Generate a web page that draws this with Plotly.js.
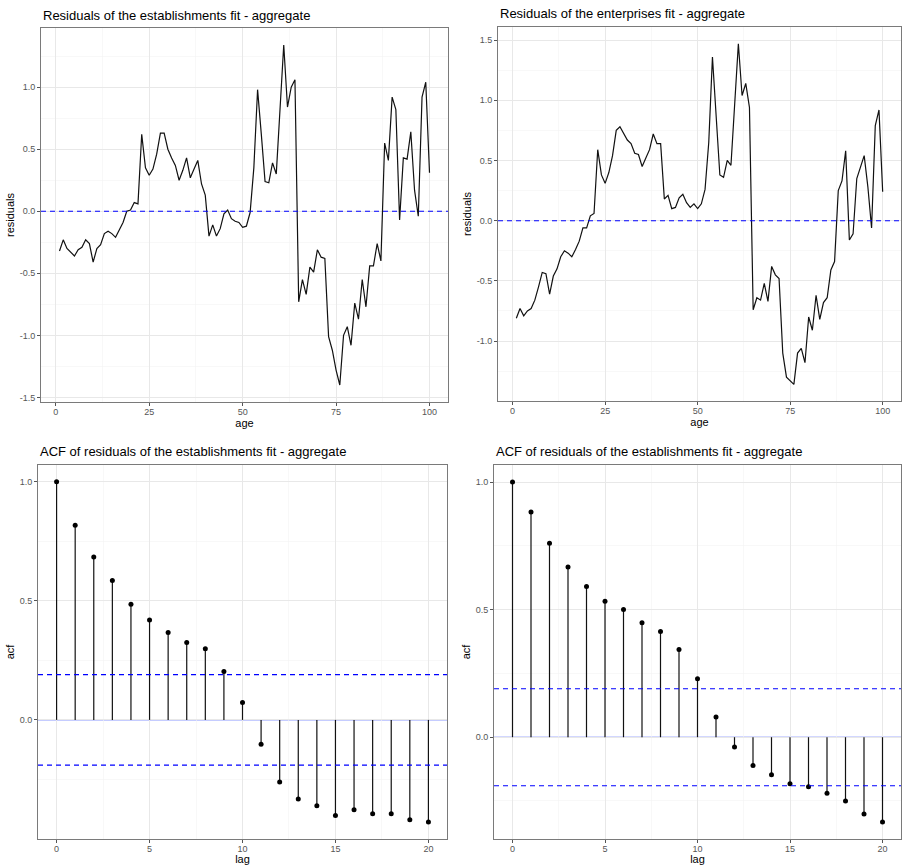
<!DOCTYPE html>
<html>
<head>
<meta charset="utf-8">
<script src="https://cdn.plot.ly/plotly-3.0.1.min.js"></script>
<style>
html,body{margin:0;padding:0;background:#fff;}
#chart{width:902px;height:865px;}
</style>
</head>
<body>
<div id="chart"></div>
<script>
// ---------- data ----------
const age = [1,2,3,4,5,6,7,8,9,10,11,12,13,14,15,16,17,18,19,20,
  21,22,23,24,25,26,27,28,29,30,31,32,33,34,35,36,37,38,39,40,
  41,42,43,44,45,46,47,48,49,50,51,52,53,54,55,56,57,58,59,60,
  61,62,63,64,65,66,67,68,69,70,71,72,73,74,75,76,77,78,79,80,
  81,82,83,84,85,86,87,88,89,90,91,92,93,94,95,96,97,98,99,100];

const residEstab = [-0.32,-0.23,-0.30,-0.33,-0.36,-0.31,-0.29,-0.23,-0.26,-0.41,
  -0.30,-0.27,-0.18,-0.16,-0.18,-0.21,-0.15,-0.09,0.00,0.01,
  0.07,0.06,0.62,0.35,0.29,0.34,0.46,0.63,0.63,0.50,
  0.43,0.37,0.25,0.33,0.43,0.27,0.34,0.41,0.22,0.13,
  -0.20,-0.11,-0.20,-0.14,-0.02,0.01,-0.06,-0.08,-0.09,-0.13,
  -0.12,-0.01,0.35,0.98,0.62,0.24,0.23,0.39,0.30,0.80,
  1.34,0.84,1.00,1.06,-0.73,-0.55,-0.67,-0.45,-0.49,-0.31,
  -0.37,-0.38,-1.01,-1.12,-1.28,-1.40,-1.00,-0.93,-1.08,-0.74,
  -0.87,-0.55,-0.77,-0.44,-0.44,-0.26,-0.40,0.55,0.41,0.92,
  0.82,-0.07,0.43,0.42,0.64,0.17,-0.04,0.92,1.04,0.31];

const residEnter = [-0.81,-0.73,-0.79,-0.75,-0.73,-0.66,-0.55,-0.43,-0.44,-0.61,
  -0.46,-0.40,-0.30,-0.25,-0.27,-0.30,-0.24,-0.17,-0.06,-0.06,
  0.04,0.06,0.59,0.38,0.31,0.40,0.54,0.75,0.78,0.72,
  0.67,0.64,0.56,0.55,0.45,0.52,0.59,0.72,0.64,0.64,
  0.18,0.21,0.10,0.11,0.19,0.22,0.15,0.11,0.14,0.10,
  0.14,0.26,0.65,1.36,0.88,0.38,0.36,0.50,0.46,0.98,
  1.47,1.04,1.14,0.94,-0.74,-0.64,-0.66,-0.52,-0.67,-0.38,
  -0.45,-0.48,-1.10,-1.30,-1.33,-1.36,-1.10,-1.06,-1.18,-0.80,
  -0.91,-0.62,-0.82,-0.68,-0.64,-0.41,-0.34,0.25,0.33,0.58,
  -0.16,-0.11,0.35,0.44,0.54,0.28,-0.06,0.79,0.92,0.24];

const lags = [0,1,2,3,4,5,6,7,8,9,10,11,12,13,14,15,16,17,18,19,20];
const acfEstab = [1.000,0.817,0.684,0.585,0.485,0.419,0.367,0.325,0.299,0.203,0.073,
  -0.102,-0.261,-0.332,-0.360,-0.401,-0.377,-0.394,-0.394,-0.419,-0.429];
const acfEnter = [1.000,0.883,0.760,0.667,0.591,0.533,0.501,0.449,0.414,0.344,0.229,
  0.079,-0.038,-0.111,-0.147,-0.182,-0.194,-0.220,-0.250,-0.301,-0.332];
const ciBound = 0.19;

const titles = [
  "Residuals of the establishments fit - aggregate",
  "Residuals of the enterprises fit - aggregate",
  "ACF of residuals of the establishments fit - aggregate",
  "ACF of residuals of the establishments fit - aggregate"
];

const ageTicks = [0,25,50,75,100];
const ageTickText = ["0","25","50","75","100"];
const ageMinor = [12.5,37.5,62.5,87.5];
const residTicksL = [-1.5,-1.0,-0.5,0.0,0.5,1.0];
const residTickTextL = ["-1.5","-1.0","-0.5","0.0","0.5","1.0"];
const residMinorL = [-1.25,-0.75,-0.25,0.25,0.75,1.25];
const residTicksR = [-1.0,-0.5,0.0,0.5,1.0,1.5];
const residTickTextR = ["-1.0","-0.5","0.0","0.5","1.0","1.5"];
const residMinorR = [-1.25,-0.75,-0.25,0.25,0.75,1.25];
const lagTicks = [0,5,10,15,20];
const lagTickText = ["0","5","10","15","20"];
const lagMinor = [2.5,7.5,12.5,17.5];
const acfTicks = [0.0,0.5,1.0];
const acfTickText = ["0.0","0.5","1.0"];
const acfMinor = [-0.25,0.25,0.75];

// ---------- helpers ----------
function stems(xs, ys){
  const sx=[], sy=[];
  xs.forEach((x,i)=>{ sx.push(x,x,null); sy.push(0,ys[i],null); });
  return {x:sx, y:sy};
}
const FONT = "Liberation Sans, Arial, Helvetica, sans-serif";
const W=902, H=865;
function dom(a,b,tot){ return [a/tot, b/tot]; }
function ydom(top,bottom){ return [1-bottom/H, 1-top/H]; }

function axisBase(ticks, text, minor, range, domain, anchor){
  return {
    domain: domain, range: range, anchor: anchor,
    tickmode:'array', tickvals: ticks, ticktext: text,
    showgrid:true, gridcolor:'#e8e8e8', gridwidth:1,
    minor:{tickmode:'array', tickvals: minor, showgrid:true, gridcolor:'#f3f3f3', gridwidth:0.6},
    zeroline:false,
    showline:true, mirror:true, linecolor:'#7a7a7a', linewidth:1,
    ticks:'outside', ticklen:3, tickcolor:'#555', tickwidth:1,
    tickfont:{family:FONT, size:9, color:'#555'}
  };
}

// ---------- traces ----------
const sE = stems(lags, acfEstab);
const sN = stems(lags, acfEnter);
const data = [
  {x:age, y:residEstab, type:'scatter', mode:'lines', line:{color:'#111', width:1.2}, xaxis:'x', yaxis:'y', showlegend:false},
  {x:age, y:residEnter, type:'scatter', mode:'lines', line:{color:'#111', width:1.2}, xaxis:'x2', yaxis:'y2', showlegend:false},
  {x:sE.x, y:sE.y, type:'scatter', mode:'lines', line:{color:'#111', width:1.2}, xaxis:'x3', yaxis:'y3', showlegend:false, connectgaps:false},
  {x:lags, y:acfEstab, type:'scatter', mode:'markers', marker:{color:'#000', size:5}, xaxis:'x3', yaxis:'y3', showlegend:false},
  {x:sN.x, y:sN.y, type:'scatter', mode:'lines', line:{color:'#111', width:1.2}, xaxis:'x4', yaxis:'y4', showlegend:false, connectgaps:false},
  {x:lags, y:acfEnter, type:'scatter', mode:'markers', marker:{color:'#000', size:5}, xaxis:'x4', yaxis:'y4', showlegend:false}
];

// ---------- layout ----------
const dTLx = dom(41,448,W), dTLy = ydom(28,402);
const dTRx = dom(498,901,W), dTRy = ydom(27,401);
const dBLx = dom(38,447,W), dBLy = ydom(465,839);
const dBRx = dom(494,901,W), dBRy = ydom(465,839);

const xTitle = (t,s)=>({text:t, font:{family:FONT, size:11, color:'#000'}, standoff:s});
const yTitle = (t)=>({text:t, font:{family:FONT, size:11, color:'#000'}, standoff:2});
const xExtra = {ticklabelstandoff:-2};

const layout = {
  width:W, height:H,
  margin:{l:0,r:0,t:0,b:0},
  paper_bgcolor:'#fff', plot_bgcolor:'#fff',
  showlegend:false,
  xaxis: Object.assign(axisBase(ageTicks, ageTickText, ageMinor, [-3.95,104.95], dTLx, 'y'), xExtra, {title:xTitle('age',1)}),
  yaxis: Object.assign(axisBase(residTicksL, residTickTextL, residMinorL, [-1.537,1.477], dTLy, 'x'), {title:yTitle('residuals')}),
  xaxis2: Object.assign(axisBase(ageTicks, ageTickText, ageMinor, [-3.95,104.95], dTRx, 'y2'), xExtra, {title:xTitle('age',1)}),
  yaxis2: Object.assign(axisBase(residTicksR, residTickTextR, residMinorR, [-1.498,1.609], dTRy, 'x2'), {title:yTitle('residuals')}),
  xaxis3: Object.assign(axisBase(lagTicks, lagTickText, lagMinor, [-1,21], dBLx, 'y3'), xExtra, {title:xTitle('lag',4)}),
  yaxis3: Object.assign(axisBase(acfTicks, acfTickText, acfMinor, [-0.50,1.07], dBLy, 'x3'), {title:yTitle('acf')}),
  xaxis4: Object.assign(axisBase(lagTicks, lagTickText, lagMinor, [-1,21], dBRx, 'y4'), xExtra, {title:xTitle('lag',4)}),
  yaxis4: Object.assign(axisBase(acfTicks, acfTickText, acfMinor, [-0.399,1.067], dBRy, 'x4'), {title:yTitle('acf')}),
  shapes: [
    {type:'line', xref:'x domain', yref:'y', x0:0, x1:1, y0:0, y1:0, line:{color:'blue', width:1.1, dash:'5px,4px'}},
    {type:'line', xref:'x2 domain', yref:'y2', x0:0, x1:1, y0:0, y1:0, line:{color:'blue', width:1.1, dash:'5px,4px'}},
    {type:'line', xref:'x3 domain', yref:'y3', x0:0, x1:1, y0:0, y1:0, line:{color:'#6677ff', width:1}, layer:'below'},
    {type:'line', xref:'x3 domain', yref:'y3', x0:0, x1:1, y0:ciBound, y1:ciBound, line:{color:'blue', width:1.1, dash:'5px,4px'}},
    {type:'line', xref:'x3 domain', yref:'y3', x0:0, x1:1, y0:-ciBound, y1:-ciBound, line:{color:'blue', width:1.1, dash:'5px,4px'}},
    {type:'line', xref:'x4 domain', yref:'y4', x0:0, x1:1, y0:0, y1:0, line:{color:'#6677ff', width:1}, layer:'below'},
    {type:'line', xref:'x4 domain', yref:'y4', x0:0, x1:1, y0:ciBound, y1:ciBound, line:{color:'blue', width:1.1, dash:'5px,4px'}},
    {type:'line', xref:'x4 domain', yref:'y4', x0:0, x1:1, y0:-ciBound, y1:-ciBound, line:{color:'blue', width:1.1, dash:'5px,4px'}}
  ],
  annotations: [
    {text:titles[0], xref:'paper', yref:'paper', x:41/W, y:1-15/H, xanchor:'left', yanchor:'middle', showarrow:false, font:{family:FONT, size:13, color:'#000'}},
    {text:titles[1], xref:'paper', yref:'paper', x:498/W, y:1-14/H, xanchor:'left', yanchor:'middle', showarrow:false, font:{family:FONT, size:13, color:'#000'}},
    {text:titles[2], xref:'paper', yref:'paper', x:38/W, y:1-452/H, xanchor:'left', yanchor:'middle', showarrow:false, font:{family:FONT, size:13, color:'#000'}},
    {text:titles[3], xref:'paper', yref:'paper', x:494/W, y:1-452/H, xanchor:'left', yanchor:'middle', showarrow:false, font:{family:FONT, size:13, color:'#000'}}
  ]
};

Plotly.newPlot('chart', data, layout, {staticPlot:true, displayModeBar:false});
</script>
</body>
</html>
